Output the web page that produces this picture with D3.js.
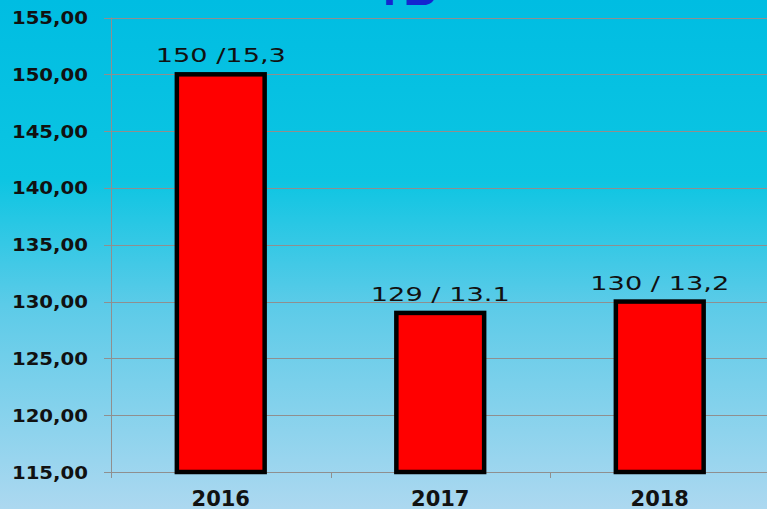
<!doctype html>
<html>
<head>
    <meta charset="UTF-8">
    <title>ТБ</title>
    <script src="https://d3js.org/d3.v7.min.js"></script>
    <style>
        body{margin:0;overflow:hidden;}
    </style>
</head>
<body>
<script>
    var years = ["2016","2017","2018"];
    var values = [150,129,130];
    var labels = ["150 /15,3","129 / 13.1","130 / 13,2"];
    var yTicks = [115,120,125,130,135,140,145,150,155];

    var w=767;
    var h=509;
    var mLeft=111, mRight=769.5, mTop=17.5, mBottom=472;

    var svg = d3.select("body").append("svg").attr("width",w).attr("height",h);

    // background
    var grad = svg.append("defs").append("linearGradient")
        .attr("id","bg").attr("x1",0).attr("y1",0).attr("x2",0).attr("y2",1);
    grad.append("stop").attr("offset","0%").attr("stop-color","#00bde2");
    grad.append("stop").attr("offset","35%").attr("stop-color","#0cc5e2");
    grad.append("stop").attr("offset","60%").attr("stop-color","#5ccbe8");
    grad.append("stop").attr("offset","100%").attr("stop-color","#acd8f0");
    svg.append("rect").attr("width",w).attr("height",h).attr("fill","url(#bg)");

    // title cut off at top
    svg.append("text").attr("x",406).attr("y",5)
        .attr("text-anchor","middle")
        .attr("font-family","Liberation Sans, Arial, sans-serif")
        .attr("font-weight","bold").attr("font-size",46)
        .attr("fill","#1426d0")
        .text("ТБ");

    var y = d3.scaleLinear().domain([115,155]).range([mBottom,mTop]);
    var x = d3.scaleBand().domain(years).range([mLeft,mRight])
        .paddingInner(0.6).paddingOuter(0.3);

    // gridlines
    svg.append("g").selectAll("line").data(yTicks).enter().append("line")
        .attr("x1",104).attr("x2",w)
        .attr("y1",function(d){return Math.round(y(d))+0.5;})
        .attr("y2",function(d){return Math.round(y(d))+0.5;})
        .attr("stroke","#8f8f8f").attr("stroke-width",1);

    // y axis line
    svg.append("line").attr("x1",mLeft+0.5).attr("x2",mLeft+0.5)
        .attr("y1",mTop).attr("y2",mBottom+6)
        .attr("stroke","#8f8f8f");

    // x axis ticks
    var bounds = [x.step(), x.step()*2].map(function(s){return mLeft+s;});
    svg.append("g").selectAll("line").data(bounds).enter().append("line")
        .attr("x1",function(d){return Math.round(d)+0.5;})
        .attr("x2",function(d){return Math.round(d)+0.5;})
        .attr("y1",mBottom).attr("y2",mBottom+6)
        .attr("stroke","#8f8f8f");

    // y tick labels
    svg.append("g").selectAll("text").data(yTicks).enter().append("text")
        .attr("transform",function(d){return "translate(88,"+(y(d)+6.5)+") scale(1.16,1)";})
        .attr("text-anchor","end")
        .attr("font-family","DejaVu Sans, Verdana, sans-serif")
        .attr("font-weight","bold").attr("font-size",17)
        .attr("fill","#111")
        .text(function(d){return d3.format(".2f")(d).replace(".",",");});

    // bars
    svg.append("g").selectAll("rect").data(values).enter().append("rect")
        .attr("x",function(d,i){return x(years[i]);})
        .attr("y",function(d){return y(d);})
        .attr("width",x.bandwidth())
        .attr("height",function(d){return y(115)-y(d);})
        .attr("fill","#ff0000")
        .attr("stroke","#000").attr("stroke-width",4.5);

    // value labels
    svg.append("g").selectAll("text").data(values).enter().append("text")
        .attr("transform",function(d,i){
            return "translate("+(x(years[i])+x.bandwidth()/2)+","+(y(d)-12)+") scale(1.36,1)";
        })
        .attr("text-anchor","middle")
        .attr("font-family","DejaVu Sans, Verdana, sans-serif")
        .attr("font-size",20)
        .attr("fill","#111")
        .text(function(d,i){return labels[i];});

    // x labels
    svg.append("g").selectAll("text").data(years).enter().append("text")
        .attr("x",function(d){return x(d)+x.bandwidth()/2;})
        .attr("y",505.5)
        .attr("text-anchor","middle")
        .attr("font-family","DejaVu Sans, Verdana, sans-serif")
        .attr("font-weight","bold").attr("font-size",21)
        .attr("fill","#111")
        .text(function(d){return d;});
</script>
</body>
</html>
